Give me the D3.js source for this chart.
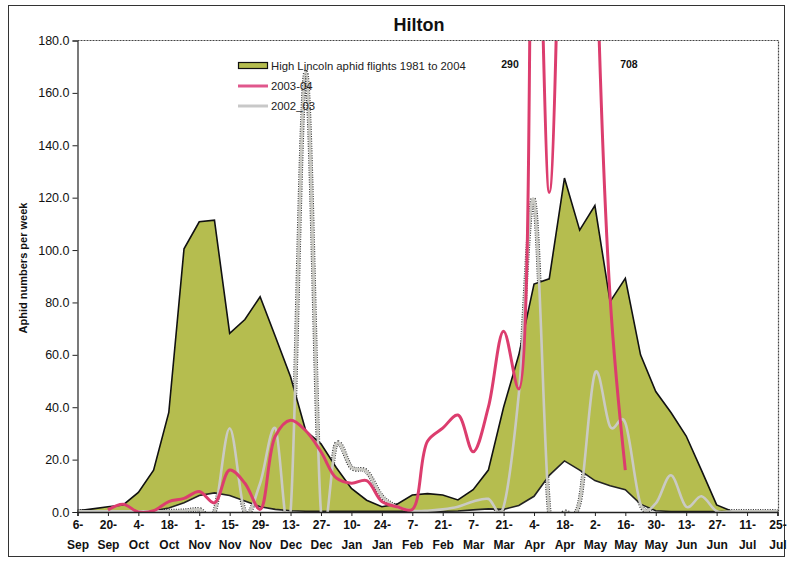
<!DOCTYPE html>
<html>
<head>
<meta charset="utf-8">
<script src="https://cdn.jsdelivr.net/npm/d3@7/dist/d3.min.js"></script>
<style>
  html, body { margin: 0; padding: 0; background: #fff; }
  svg { display: block; font-family: "Liberation Sans", Arial, sans-serif; }
</style>
</head>
<body>
<svg id="chart" width="787" height="562"></svg>
<script>
// Weekly trapping dates (Sep to Jul)
const weeks = ["6-Sep","13-Sep","20-Sep","27-Sep","4-Oct","11-Oct","18-Oct","25-Oct",
  "1-Nov","8-Nov","15-Nov","22-Nov","29-Nov","6-Dec","13-Dec","20-Dec","27-Dec",
  "3-Jan","10-Jan","17-Jan","24-Jan","31-Jan","7-Feb","14-Feb","21-Feb","28-Feb",
  "7-Mar","14-Mar","21-Mar","28-Mar","4-Apr","11-Apr","18-Apr","25-Apr",
  "2-May","9-May","16-May","23-May","30-May","6-Jun","13-Jun","20-Jun","27-Jun",
  "4-Jul","11-Jul","18-Jul","25-Jul"];

// Labelled dates on the category axis
const tickLabels = ["6-Sep","20-Sep","4-Oct","18-Oct","1-Nov","15-Nov","29-Nov","13-Dec",
  "27-Dec","10-Jan","24-Jan","7-Feb","21-Feb","7-Mar","21-Mar","4-Apr","18-Apr",
  "2-May","16-May","30-May","13-Jun","27-Jun","11-Jul","25-Jul"];

const yTicks = [0, 20, 40, 60, 80, 100, 120, 140, 160, 180];

// High Lincoln aphid flights 1981 to 2004: upper and lower edges of the band
const highUpper = [0.5,1.2,2,2.7,7.5,16,38,100.5,110.8,111.4,68.2,73.5,82.2,67,51.6,
  31,26,17,9,4.5,2,3,6.5,7,6.5,4.6,8.5,16,40,60,87,89,127.5,107.6,117,80.3,89.2,
  60,46,38,29,16,2.7,0.3,0,0,0];
const highLower = [0.3,0.3,0.3,0.3,0.3,0.5,1.5,3.5,6.3,7.3,6.3,4.2,2,1,0.5,
  0.3,0.3,0.3,0.3,0.3,0.3,0.3,0.3,0.3,0.3,0.4,0.8,1.2,1,2.5,6,14,19.5,16,12,10,8.5,
  3,0.5,0.2,0.2,0.2,0.2,0.2,0.2,0.2,0.2];

// 2003-04 season (to mid May)
const season0304 = [null,null,0.8,3,0,0.5,4,5.2,7.8,3.5,16,11,1,29,35,31,23,13,11,12,
  4,2,1,27,32,37,23,40,69,47,290,122,330,708,240,82,16];

// 2002_03 season
const season0203 = [0.3,0.3,0.3,0.3,0.3,0.3,0.3,0.5,1,0,32,0,11,32,0,168,0,26,17,15.5,
  6,2,0.5,0.5,1,2,4,5,2,45,119,0,0,4,53,32.6,34,3,3.3,14,2,6,0.3,0.3,0.3,0.3,0.3];

// Peak values written beside the 2003-04 line
const peakNotes = [{week: "4-Apr", text: "290", dx: -24}, {week: "2-May", text: "708", dx: 34}];

const svg = d3.select("#chart");
const plotLeft = 77.5, plotRight = 777.5, plotTop = 40.5, plotBottom = 512;

const x = d3.scalePoint().domain(weeks).range([plotLeft, plotRight]);
const y = d3.scaleLinear().domain([0, 180]).range([plotBottom, plotTop]);

// outer frame
svg.append("rect").attr("x", 8.5).attr("y", 5.5).attr("width", 776).attr("height", 551)
  .attr("fill", "none").attr("stroke", "#333").attr("stroke-width", 1);

// title
svg.append("text").attr("x", 419).attr("y", 31).attr("text-anchor", "middle")
  .attr("font-size", 18).attr("font-weight", "bold").attr("fill", "#111").text("Hilton");

// y axis title
svg.append("text").attr("transform", "translate(27,268) rotate(-90)")
  .attr("text-anchor", "middle").attr("font-size", 11).attr("font-weight", "bold")
  .attr("fill", "#111").text("Aphid numbers per week");

svg.append("clipPath").attr("id", "plotClip").append("rect")
  .attr("x", plotLeft).attr("y", plotTop).attr("width", plotRight - plotLeft + 1)
  .attr("height", plotBottom - plotTop);

const plot = svg.append("g").attr("clip-path", "url(#plotClip)");

// 2002_03: dark stippled edge, seen only where the line crosses white space
const line0203 = d3.line().x((d, i) => x(weeks[i])).y(d => y(d))
  .curve(d3.curveCatmullRom.alpha(0));
plot.append("path").attr("d", line0203(season0203)).attr("fill", "none")
  .attr("stroke", "#3a3a3a").attr("stroke-width", 4.6).attr("stroke-dasharray", "1.1,1.3");

// band of high Lincoln flights
const band = d3.area().x((d, i) => x(weeks[i])).y0((d, i) => y(highLower[i]))
  .y1(d => y(d)).curve(d3.curveLinear);
plot.append("path").attr("d", band(highUpper)).attr("fill", "#b5bd4f");

const edge = d3.line().x((d, i) => x(weeks[i])).y(d => y(d)).curve(d3.curveLinear);
plot.append("path").attr("d", edge(highUpper)).attr("fill", "none")
  .attr("stroke", "#111").attr("stroke-width", 1.6);
plot.append("path").attr("d", edge(highLower)).attr("fill", "none")
  .attr("stroke", "#222").attr("stroke-width", 1.6);

// 2002_03 line body
plot.append("path").attr("d", line0203(season0203)).attr("fill", "none")
  .attr("stroke", "#cacac4").attr("stroke-width", 2.6).attr("stroke-linejoin", "round");

// 2003-04 line
const line0304 = d3.line().defined(d => d !== null)
  .x((d, i) => x(weeks[i])).y(d => y(d)).curve(d3.curveCatmullRom.alpha(0.5));
plot.append("path").attr("d", line0304(season0304)).attr("fill", "none")
  .attr("stroke", "#dc3d6e").attr("stroke-width", 3).attr("stroke-linejoin", "round");

// axes
const yAxis = svg.append("g").attr("transform", `translate(${plotLeft},0)`)
  .call(d3.axisLeft(y).tickValues(yTicks).tickFormat(d3.format(".1f")).tickSize(5).tickPadding(3));
yAxis.select(".domain").attr("stroke", "#222").attr("stroke-width", 1.2);
yAxis.selectAll(".tick line").attr("stroke", "#222");
yAxis.selectAll(".tick text").attr("font-size", 12.5).attr("fill", "#111")
  .attr("font-family", "Liberation Sans, Arial, sans-serif");

const xAxis = svg.append("g").attr("transform", `translate(0,${plotBottom})`)
  .call(d3.axisBottom(x).tickValues(tickLabels).tickSize(4).tickFormat(""));
xAxis.select(".domain").attr("stroke", "#222").attr("stroke-width", 1.5);
xAxis.selectAll(".tick line").attr("stroke", "#222");
xAxis.selectAll(".tick").each(function(d) {
  const parts = d.split("-");
  const t = d3.select(this).append("text").attr("fill", "#111").attr("font-size", 12)
    .attr("font-weight", "bold").attr("text-anchor", "middle")
    .attr("font-family", "Liberation Sans, Arial, sans-serif");
  t.append("tspan").attr("x", 0).attr("y", 17).text(parts[0] + "-");
  t.append("tspan").attr("x", 0).attr("y", 37).text(parts[1]);
});

// dotted plot border (top, right)
svg.append("path").attr("d", `M${plotLeft},${plotTop}H${plotRight + 1}V${plotBottom}`)
  .attr("fill", "none").attr("stroke", "#444").attr("stroke-width", 1.2)
  .attr("stroke-dasharray", "2,1");

// peak notes
peakNotes.forEach(p => {
  svg.append("text").attr("x", x(p.week) + p.dx).attr("y", 68).attr("text-anchor", "middle")
    .attr("font-size", 10.5).attr("font-weight", "bold").attr("fill", "#111").text(p.text);
});

// legend
const legend = svg.append("g").attr("transform", "translate(238,0)");
legend.append("rect").attr("x", 0.5).attr("y", 62.5).attr("width", 29).attr("height", 6)
  .attr("fill", "#b5bd4f").attr("stroke", "#111").attr("stroke-width", 1.2);
legend.append("line").attr("x1", 0).attr("x2", 30).attr("y1", 86).attr("y2", 86)
  .attr("stroke", "#e0578c").attr("stroke-width", 3);
legend.append("line").attr("x1", 0).attr("x2", 30).attr("y1", 106).attr("y2", 106)
  .attr("stroke", "#c8c8c8").attr("stroke-width", 3);
const legendText = ["High Lincoln aphid flights 1981 to 2004", "2003-04", "2002_03"];
legendText.forEach((s, i) => {
  legend.append("text").attr("x", 33).attr("y", 70 + i * 20).attr("font-size", 11.3)
    .attr("fill", "#222").text(s);
});
</script>
</body>
</html>
